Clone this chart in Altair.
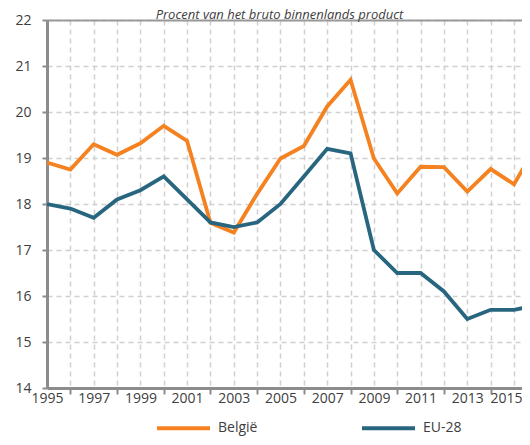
import altair as alt
import pandas as pd

years = list(range(1995, 2017))
belgie = [18.90, 18.75, 19.30, 19.07, 19.32, 19.70, 19.37, 17.59, 17.38, 18.22, 18.99,
          19.26, 20.12, 20.70, 18.99, 18.23, 18.81, 18.80, 18.27, 18.76, 18.43, 19.30]
eu28 = [18.0, 17.9, 17.7, 18.1, 18.3, 18.6, 18.1, 17.6, 17.5, 17.6, 18.0,
        18.6, 19.2, 19.1, 17.0, 16.5, 16.5, 16.1, 15.5, 15.7, 15.7, 15.8]
series_names = ["België", "EU-28"]
colors = ["#F58220", "#28667F"]
title_text = ["Procent van het bruto binnenlands product"]
odd_years = list(range(1995, 2016, 2))
even_years = list(range(1996, 2016, 2))
y_ticks = list(range(14, 23))

df = pd.DataFrame({
    "jaar": years * 2,
    "waarde": belgie + eu28,
    "reeks": [series_names[0]] * len(years) + [series_names[1]] * len(years),
})
title_df = pd.DataFrame({"titel": title_text})

FONT = "Open Sans"
TXT = "#404040"
AX = "#8c8c8c"
xscale = alt.Scale(domain=[1995, 2015.343], nice=False, zero=False)
yscale = alt.Scale(domain=[14, 22], nice=False, zero=False)
grid_common = dict(gridColor="#d0d0d0", gridDash=[5, 4], gridWidth=1.5)

lines = alt.Chart(df).mark_line(strokeWidth=3.8, clip=True).encode(
    x=alt.X("jaar:Q", scale=xscale, axis=alt.Axis(
        orient="bottom", values=odd_years, format="d", ticks=False, grid=True,
        domain=True, domainColor=AX, domainWidth=3, labelPadding=3,
        labelFontSize=14, labelColor=TXT, labelFont=FONT, title=None,
        labelOffset=alt.condition("datum.value == 2015", alt.value(-8), alt.value(0)),
        labelFlush=False, labelOverlap=False, **grid_common)),
    y=alt.Y("waarde:Q", scale=yscale, axis=alt.Axis(
        values=y_ticks, grid=True, ticks=True, tickSize=5, tickColor=AX, tickWidth=2,
        domainColor=AX, domainWidth=3, labelPadding=11, labelFontSize=14,
        labelColor=TXT, labelFont=FONT, title=None, labelFlush=False, **grid_common)),
    color=alt.Color("reeks:N", scale=alt.Scale(domain=series_names, range=colors),
                    legend=alt.Legend(
                        title=None, orient="none", legendX=108, legendY=379.5,
                        direction="horizontal", columns=2, symbolType="stroke",
                        symbolSize=2809, symbolStrokeWidth=4, labelFontSize=14,
                        labelFont=FONT, labelColor=TXT, labelOffset=6,
                        columnPadding=96, padding=0)),
)

even_axis = alt.Chart(df).mark_line(opacity=0).encode(
    x=alt.X("jaar:Q", scale=xscale, axis=alt.Axis(
        orient="bottom", values=even_years, labels=False, ticks=True, tickSize=6,
        tickWidth=2, tickColor=AX, domain=False, grid=True, title=None, **grid_common)),
    y=alt.Y("waarde:Q", scale=yscale),
    detail="reeks:N",
)

top_axis = alt.Chart(df).mark_line(opacity=0).encode(
    x=alt.X("jaar:Q", scale=xscale, axis=alt.Axis(
        orient="top", labels=False, ticks=False, grid=False, domain=True,
        domainColor="#999999", domainWidth=2, title=None)),
    y=alt.Y("waarde:Q", scale=yscale),
    detail="reeks:N",
)

title_mark = alt.Chart(title_df).mark_text(
    font=FONT, fontSize=13, fontStyle="italic", color=TXT, align="center",
    baseline="alphabetic",
).encode(text="titel:N", x=alt.value(232.5), y=alt.value(-1))

chart = alt.layer(even_axis, top_axis, lines, title_mark).resolve_axis(x="independent").properties(
    width=475,
    height=368,
    autosize=alt.AutoSizeParams(type="none"),
    padding={"left": 39, "top": 12, "right": 0, "bottom": 49},
).configure_view(stroke=None)

chart.save("out.html", embed_options={"renderer": "svg", "actions": False})
